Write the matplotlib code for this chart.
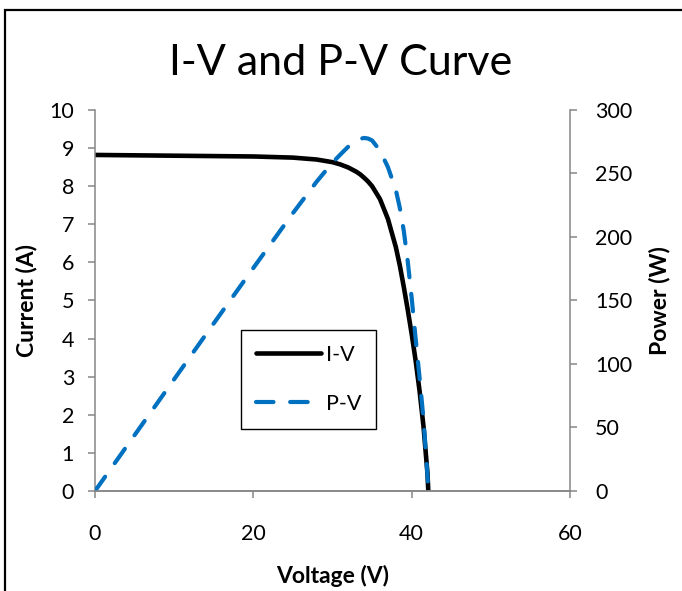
import matplotlib.pyplot as plt
from matplotlib.patches import Rectangle
from matplotlib.lines import Line2D

# -----------------------------
# Data
# -----------------------------
voltage = [0, 5, 10, 15, 20, 25, 28, 30, 31, 32, 33, 33.5, 34, 34.5, 35,
           36, 37, 38, 38.5, 39, 39.5, 40, 40.5, 41, 41.5, 42, 42.1]

current = [8.82, 8.81, 8.80, 8.79, 8.78, 8.75, 8.70, 8.63, 8.57, 8.49, 8.38,
           8.31, 8.22, 8.12, 8.00, 7.66, 7.14, 6.40, 5.92, 5.36, 4.76, 4.12,
           3.42, 2.62, 1.68, 0.45, 0.0]

power = [0, 44, 88, 132, 175.6, 218.8, 243.6, 258.6, 265, 271.2, 275.5,
         277.3, 278, 277.5, 276, 268, 255, 237, 223, 205, 181, 152, 120, 89,
         56, 12, 0]

x_ticks = [0, 20, 40, 60]
i_ticks = list(range(0, 11))
p_ticks = [0, 50, 100, 150, 200, 250, 300]

# -----------------------------
# Style
# -----------------------------
plt.rcParams["font.family"] = ["Lato", "DejaVu Sans"]
gray = "#868686"
blue = "#0070C0"

fig = plt.figure(figsize=(6.82, 5.91), dpi=100)
ax = fig.add_axes([0.1393, 0.1692, 0.6965, 0.6447])
ax2 = ax.twinx()

# chart border
fig.patches.append(
    Rectangle((0.0075, -0.1), 1.2, 1.083, transform=fig.transFigure,
              fill=False, edgecolor="black", linewidth=1.6)
)

# -----------------------------
# Curves
# -----------------------------
ax.plot(voltage, current, color="black", linewidth=3.3,
        solid_capstyle="butt", solid_joinstyle="round")

ax2.plot(voltage, power, color=blue, linewidth=3.0,
         linestyle=(0, (4.2, 4.0)), dash_capstyle="round",
         dash_joinstyle="round")

# -----------------------------
# Axes
# -----------------------------
ax.set_xlim(0, 60)
ax.set_ylim(0, 10)
ax2.set_ylim(0, 300)

ax.set_xticks(x_ticks)
ax.set_yticks(i_ticks)
ax2.set_yticks(p_ticks)

for a in (ax, ax2):
    for s in a.spines.values():
        s.set_color(gray)
        s.set_linewidth(1.1)
    a.spines["top"].set_visible(False)

ax2.spines["left"].set_visible(False)
ax.spines["right"].set_visible(False)

ax.tick_params(axis="y", direction="out", length=5, width=1.1,
               color=gray, labelsize=15.5, pad=10)
ax.tick_params(axis="x", direction="out", length=5, width=1.1,
               color=gray, labelsize=15.5, pad=19)
ax2.tick_params(axis="y", direction="out", length=5, width=1.1,
                color=gray, labelsize=15.5, pad=13)

ax.set_xlabel("Voltage (V)", fontsize=16.5, fontweight="bold", labelpad=15)
ax.set_ylabel("Current (A)", fontsize=16.5, fontweight="bold", labelpad=9)
ax2.set_ylabel("Power (W)", fontsize=16.5, fontweight="bold", labelpad=12)

fig.text(0.5, 0.894, "I-V and P-V Curve", fontsize=31,
         ha="center", va="center")

# -----------------------------
# Legend
# -----------------------------
handles = [
    Line2D([], [], color="black", linewidth=3.3, solid_capstyle="round"),
    Line2D([], [], color=blue, linewidth=3.0,
           linestyle=(0, (4.2, 4.0)), dash_capstyle="round"),
]
leg = ax2.legend(handles, ["I-V", "P-V"], loc="center",
                 bbox_to_anchor=(0.45, 0.293), fontsize=15.5,
                 handlelength=3.0, handletextpad=0.25, labelspacing=1.35,
                 fancybox=False, edgecolor="black", framealpha=1,
                 borderpad=0.7, borderaxespad=0)
leg.get_frame().set_linewidth(1.0)

fig.savefig("out.png", dpi=100)
